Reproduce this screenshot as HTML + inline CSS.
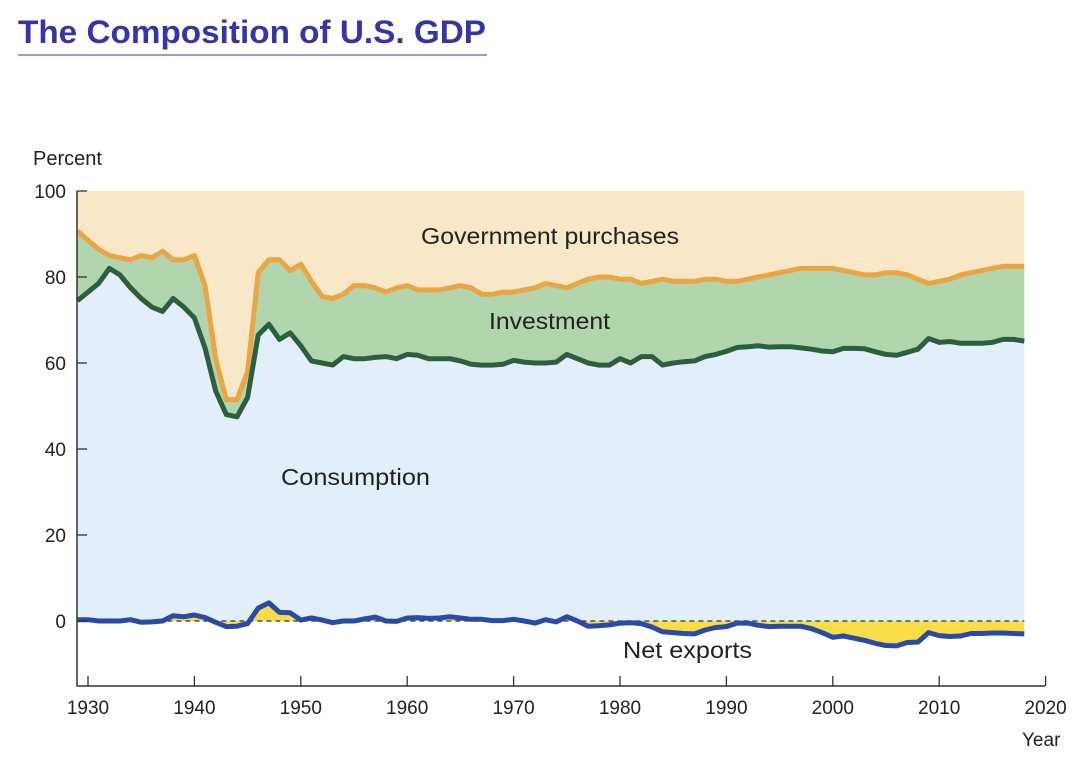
<!DOCTYPE html>
<html><head><meta charset="utf-8"><style>
body{margin:0;background:#fff;width:1085px;height:760px;overflow:hidden}
svg text{font-family:"Liberation Sans",Arial,sans-serif}
</style></head><body>
<svg width="1085" height="760">
<text x="18" y="43" font-size="32" font-weight="bold" fill="#3535a8" textLength="468" lengthAdjust="spacingAndGlyphs">The Composition of U.S. GDP</text>
<line x1="18" y1="55" x2="487" y2="55" stroke="#3535a8" stroke-width="1"/>
<text x="33" y="165" font-size="20" fill="#222">Percent</text>
<text x="1022" y="746" font-size="19" fill="#222">Year</text>
<g id="plot"></g>
</svg>
<script>
const years=[];for(let y=1929;y<=2018;y++)years.push(y);
const govLine=[90.7,88.5,86.5,85,84.5,84,85,84.5,86,84,84,85,78,61,51.5,51.5,58,81,84,84,81.5,83,79,75.5,75,76,78,78,77.5,76.5,77.5,78,77,77,77,77.5,78,77.5,76,76,76.5,76.5,77,77.5,78.5,78,77.5,78.5,79.5,80,80,79.5,79.5,78.5,79,79.5,79,79,79,79.5,79.5,79,79,79.5,80,80.5,81,81.5,82,82,82,82,81.5,81,80.5,80.5,81,81,80.5,79.5,78.5,79,79.5,80.5,81,81.5,82,82.5,82.5,82.5];
const consumption=[74.5,76.5,78.5,82,80.5,77.5,75,73,72,75,73,70.5,63.5,53.5,48,47.5,52,66.5,69,65.5,67,64,60.5,60,59.5,61.5,61,61,61.3,61.5,61,62,61.8,61,61,61,60.5,59.7,59.5,59.5,59.7,60.6,60.2,60,60,60.2,62,61,60,59.5,59.5,61,60,61.5,61.5,59.5,60,60.3,60.5,61.5,62,62.7,63.6,63.8,64,63.7,63.8,63.8,63.5,63.2,62.8,62.6,63.4,63.4,63.3,62.6,62,61.8,62.5,63.2,65.7,64.8,65,64.6,64.6,64.6,64.8,65.5,65.5,65.1];
const netExports=[0.3,0.3,0,0,0,0.3,-0.3,-0.2,0,1.2,1,1.4,0.8,-0.3,-1.3,-1.2,-0.6,3,4.2,2,1.9,0.2,0.7,0.2,-0.4,0,0,0.5,0.9,0,-0.1,0.7,0.8,0.6,0.7,1,0.7,0.4,0.4,0.1,0.1,0.4,0,-0.5,0.3,-0.2,1,0,-1.2,-1.1,-0.9,-0.5,-0.4,-0.6,-1.4,-2.5,-2.7,-2.9,-3,-2.1,-1.5,-1.3,-0.5,-0.5,-1,-1.3,-1.2,-1.2,-1.2,-1.8,-2.7,-3.8,-3.5,-4,-4.5,-5.2,-5.7,-5.8,-5,-4.9,-2.7,-3.4,-3.6,-3.5,-2.9,-2.9,-2.8,-2.8,-2.9,-3.0];
const xTicks=[1930,1940,1950,1960,1970,1980,1990,2000,2010,2020];
const yTicks=[0,20,40,60,80,100];
const X=y=>88+(y-1930)*10.64;
const Y=v=>621-v*4.3;
const NS='http://www.w3.org/2000/svg';
const g=document.getElementById('plot');
function mk(t,a){const e=document.createElementNS(NS,t);for(const k in a)e.setAttribute(k,a[k]);g.appendChild(e);return e;}
function pts(arr){return years.map((y,i)=>X(y).toFixed(1)+','+Y(arr[i]).toFixed(1)).join(' ');}
const x0=X(1929),x1=X(2018);
let e;
e=mk('polygon',{points:`${x0},${Y(100)} ${x1},${Y(100)} `+pts(govLine).split(' ').reverse().join(' '),fill:'#f9e8c8'});


e=mk('polygon',{points:pts(govLine)+' '+pts(consumption).split(' ').reverse().join(' '),fill:'#b1d5ad'});


e=mk('polygon',{points:pts(consumption)+` ${x1},${Y(0)} ${x0},${Y(0)}`,fill:'#e2eef9'});


e=mk('polygon',{points:pts(netExports)+` ${x1},${Y(0)} ${x0},${Y(0)}`,fill:'#f8dc4a'});


e=mk('line',{x1:x0,y1:Y(0),x2:x1,y2:Y(0),stroke:'#333','stroke-width':1.3,'stroke-dasharray':'5,4'});


e=mk('polyline',{points:pts(govLine),fill:'none',stroke:'#eba544','stroke-width':5,'stroke-linejoin':'round'});


e=mk('polyline',{points:pts(consumption),fill:'none',stroke:'#2e5e40','stroke-width':5,'stroke-linejoin':'round'});


e=mk('polyline',{points:pts(netExports),fill:'none',stroke:'#2a4aa8','stroke-width':5,'stroke-linejoin':'round'});


e=mk('polyline',{points:`77,191 77,686 1045,686`,fill:'none',stroke:'#333','stroke-width':1.5});


yTicks.forEach(v=>{
 e=mk('line',{x1:77,y1:Y(v),x2:87,y2:Y(v),stroke:'#333','stroke-width':1.3});
 
 
 e=mk('text',{x:66,y:Y(v)+7,'text-anchor':'end','font-size':19,fill:'#222'});e.textContent=v;
 
 
});
xTicks.forEach(v=>{
 e=mk('line',{x1:X(v),y1:686,x2:X(v),y2:676,stroke:'#333','stroke-width':1.3});
 
 
 e=mk('text',{x:X(v),y:714,'text-anchor':'middle','font-size':19,fill:'#222'});e.textContent=v;
 
 
});
const labels=[['Government purchases',421,244,258,'government-purchases-label'],['Investment',489,329,121,'investment-label'],['Consumption',281,485,149,'consumption-label'],['Net exports',623,658,129,'net-exports-label']];
labels.forEach(l=>{
 e=mk('text',{x:l[1],y:l[2],'font-size':23,fill:'#222',textLength:l[3],lengthAdjust:'spacingAndGlyphs'});e.textContent=l[0];
 
 
});
</script>
</body></html>
